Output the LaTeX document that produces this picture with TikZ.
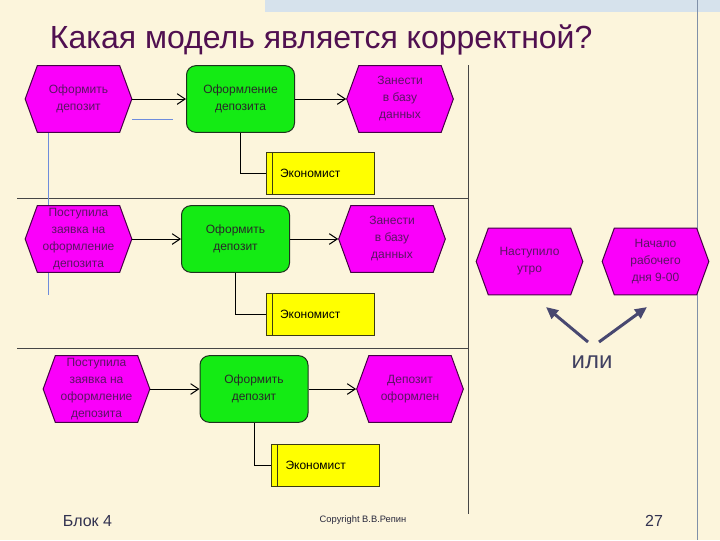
\documentclass[tikz,border=0pt]{standalone}
\usepackage{fontspec}
\setmainfont{Liberation Sans}
\usetikzlibrary{shapes.symbols,arrows.meta}

\tikzset{every picture/.style={line width=0.75pt}}
\tikzset{
	event/.style={signal, signal to=east and west, signal pointer angle=140, draw={rgb, 255:red, 70; green, 0; blue, 70 }, fill={rgb, 255:red, 250; green, 0; blue, 250 }, minimum width=80pt, minimum height=50pt, inner sep=0pt, align=center, font=\fontsize{9}{12.75}\selectfont, text={rgb, 255:red, 90; green, 20; blue, 100 }},
	func/.style={rectangle, rounded corners=7pt, draw={rgb, 255:red, 30; green, 50; blue, 30 }, fill={rgb, 255:red, 20; green, 235; blue, 20 }, minimum width=81pt, minimum height=50pt, align=center, font=\fontsize{9}{12.75}\selectfont, text={rgb, 255:red, 40; green, 40; blue, 40 }},
	staff/.style={rectangle, draw={rgb, 255:red, 60; green, 60; blue, 20 }, fill={rgb, 255:red, 255; green, 255; blue, 0 }, minimum height=31.5pt, text width=60pt, inner xsep=10.5pt, align=left, font=\fontsize{9}{12.75}\selectfont,
		path picture={\draw ([xshift=4.5pt]path picture bounding box.north west) -- ([xshift=4.5pt]path picture bounding box.south west);}},
	flow/.style={-{Straight Barb[length=6pt,width=8pt]}},
	sep/.style={draw={rgb, 255:red, 70; green, 70; blue, 70 }},
	guide/.style={draw={rgb, 255:red, 110; green, 140; blue, 220 }},
	orarrow/.style={line width=2.25pt, draw={rgb, 255:red, 72; green, 72; blue, 112 }, -{Triangle[length=9pt,width=8pt]}}
}

\begin{document}
\begin{tikzpicture}[x=0.75pt,y=0.75pt,yscale=-1,xscale=1]
	%background
	\fill [fill={rgb, 255:red, 252; green, 245; blue, 220 }] (0,0) rectangle (720,540);
	\useasboundingbox (0,0) rectangle (720,540);
	\fill [fill={rgb, 255:red, 214; green, 226; blue, 236 }] (265,0) rectangle (720,12);
	\draw [draw={rgb, 255:red, 128; green, 144; blue, 168 }] (697,0) -- (697,540);

	% Text Node
	\node [anchor=base west, font=\fontsize{24}{28}\selectfont, text={rgb, 255:red, 80; green, 16; blue, 80 }] (title) at (45,48) {Какая модель является корректной?};

	%Straight Lines
	\draw [sep] (17,198) -- (468,198);
	\draw [sep] (17,348) -- (468,348);
	\draw [sep] (468,65) -- (468,514);
	\draw [guide] (132,119) -- (173,119);
	\draw [guide] (48,132) -- (48,295);

	%Row 1
	\node [event] (a1) at (78.5,99) {Оформить\\депозит};
	\node [func] (b1) at (240.5,99) {Оформление\\депозита};
	\node [event] (c1) at (400,99) {Занести\\в базу\\данных};
	\node [staff] (d1) at (320,173) {Экономист};
	\draw [flow] (a1.east) -- (b1.west);
	\draw [flow] (b1.east) -- (c1.west);
	\draw (b1.south) |- (d1.west);

	%Row 2
	\node [event] (a2) at (78.5,239) {Поступила\\заявка на\\оформление\\депозита};
	\node [func] (b2) at (235.5,239) {Оформить\\депозит};
	\node [event] (c2) at (392,239) {Занести\\в базу\\данных};
	\node [staff] (d2) at (320,314) {Экономист};
	\draw [flow] (a2.east) -- (b2.west);
	\draw [flow] (b2.east) -- (c2.west);
	\draw (b2.south) |- (d2.west);

	%Row 3
	\node [event] (a3) at (96.5,389) {Поступила\\заявка на\\оформление\\депозита};
	\node [func] (b3) at (254,389) {Оформить\\депозит};
	\node [event] (c3) at (410,389) {Депозит\\оформлен};
	\node [staff] (d3) at (325.5,465.5) {Экономист};
	\draw [flow] (a3.east) -- (b3.west);
	\draw [flow] (b3.east) -- (c3.west);
	\draw (b3.south) |- (d3.west);

	%Alternatives
	\node [event] (e1) at (529.5,261.5) {Наступило\\утро};
	\node [event] (e2) at (655.5,261.5) {Начало\\рабочего\\дня  9-00};
	\node [font=\fontsize{18}{20}\selectfont, text={rgb, 255:red, 64; green, 64; blue, 96 }] (ili) at (592,362) {или};
	\coordinate (s1) at (588,342);
	\coordinate (t1) at (546,307);
	\coordinate (s2) at (599,342);
	\coordinate (t2) at (647,307);
	\draw [orarrow] (s1) -- (t1);
	\draw [orarrow] (s2) -- (t2);

	% Text Node
	\node [anchor=west, font=\fontsize{12}{14}\selectfont, text={rgb, 255:red, 50; green, 50; blue, 80 }] (blok) at (58,521) {Блок 4};
	\node [font=\fontsize{7}{8}\selectfont, text={rgb, 255:red, 40; green, 40; blue, 60 }] (copy) at (363,520) {Copyright В.В.Репин};
	\node [font=\fontsize{12}{14}\selectfont, text={rgb, 255:red, 50; green, 50; blue, 80 }] (page) at (654,521) {27};
\end{tikzpicture}
\end{document}
